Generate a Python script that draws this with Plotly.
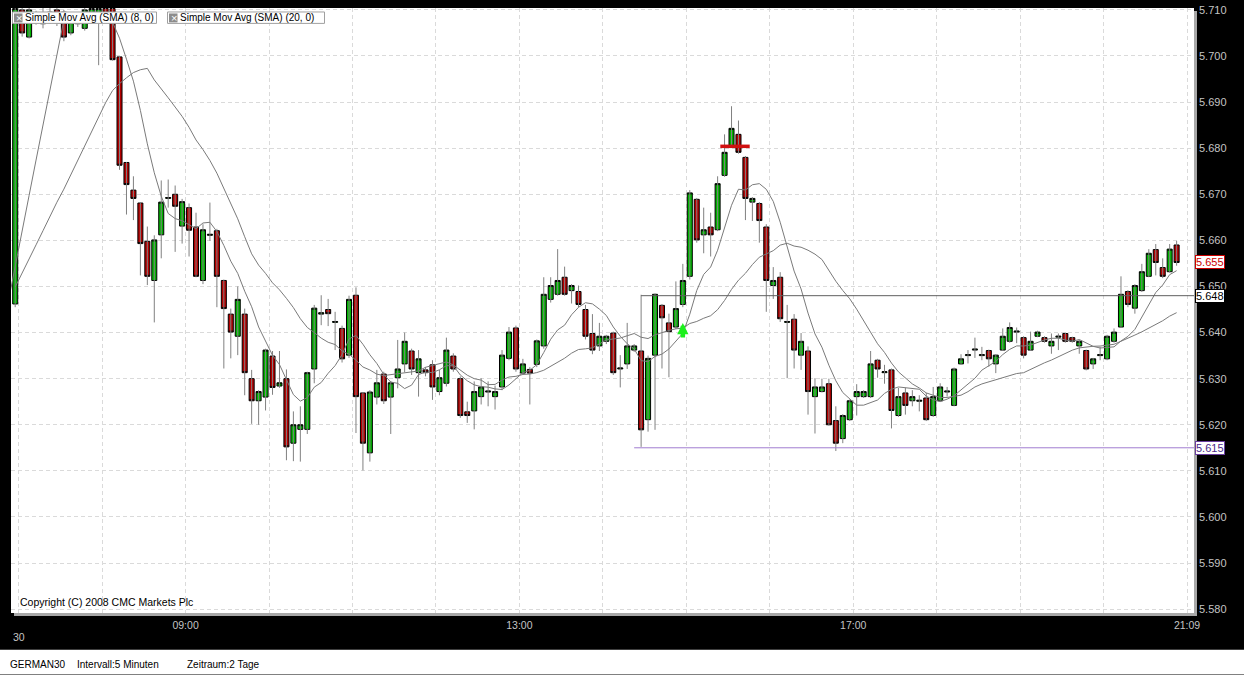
import pandas as pd
import plotly.graph_objects as go

# ---------------- data (GERMAN30, 5-minute bars) ----------------
first_bar_start = "2008-09-30 06:55"
bar_minutes = 5

opens = [5.6462, 5.7100, 5.7041, 5.7090, 5.7070, 5.7080, 5.7100, 5.7095, 5.7050, 5.7070,
         5.7060, 5.7085, 5.7085, 5.7103, 5.7103, 5.6998, 5.6769, 5.6709, 5.6681, 5.6598,
         5.6513, 5.6612, 5.6691, 5.6700, 5.6631, 5.6671, 5.6629, 5.6513, 5.6611, 5.6621,
         5.6513, 5.6440, 5.6392, 5.6440, 5.6300, 5.6252, 5.6260, 5.6349, 5.6284, 5.6300,
         5.6160, 5.6190, 5.6190, 5.6321, 5.6440, 5.6450, 5.6422, 5.6409, 5.6351, 5.6481,
         5.6269, 5.6139, 5.6260, 5.6310, 5.6260, 5.6302, 5.6332, 5.6360, 5.6313, 5.6319,
         5.6330, 5.6272, 5.6290, 5.6349, 5.6300, 5.6228, 5.6230, 5.6261, 5.6271, 5.6261,
         5.6282, 5.6344, 5.6410, 5.6312, 5.6320, 5.6331, 5.6371, 5.6472, 5.6483, 5.6520,
         5.6491, 5.6489, 5.6450, 5.6398, 5.6371, 5.6381, 5.6399, 5.6321, 5.6332, 5.6362,
         5.6360, 5.6211, 5.6351, 5.6459, 5.6421, 5.6412, 5.6461, 5.6522, 5.6689, 5.6612,
         5.6629, 5.6623, 5.6741, 5.6806, 5.6830, 5.6780, 5.6683, 5.6680, 5.6629, 5.6502,
         5.6520, 5.6422, 5.6429, 5.6351, 5.6360, 5.6261, 5.6272, 5.6289, 5.6209, 5.6170,
         5.6211, 5.6261, 5.6261, 5.6261, 5.6340, 5.6313, 5.6319, 5.6220, 5.6269, 5.6252,
         5.6251, 5.6258, 5.6220, 5.6252, 5.6271, 5.6242, 5.6332, 5.6350, 5.6362, 5.6350,
         5.6361, 5.6332, 5.6362, 5.6381, 5.6401, 5.6389, 5.6362, 5.6392, 5.6389, 5.6371,
         5.6390, 5.6398, 5.6389, 5.6371, 5.6361, 5.6332, 5.6350, 5.6343, 5.6381, 5.6412,
         5.6489, 5.6453, 5.6491, 5.6522, 5.6580, 5.6541, 5.6532, 5.6590]

highs = [5.7115, 5.7110, 5.7112, 5.7098, 5.7110, 5.7105, 5.7110, 5.7100, 5.7090, 5.7080,
         5.7105, 5.7110, 5.7110, 5.7110, 5.7110, 5.7000, 5.6770, 5.6739, 5.6683, 5.6630,
         5.6611, 5.6730, 5.6732, 5.6719, 5.6690, 5.6680, 5.6660, 5.6635, 5.6682, 5.6625,
         5.6515, 5.6452, 5.6500, 5.6452, 5.6319, 5.6275, 5.6365, 5.6360, 5.6360, 5.6320,
         5.6229, 5.6240, 5.6315, 5.6460, 5.6481, 5.6473, 5.6445, 5.6415, 5.6480, 5.6498,
         5.6270, 5.6275, 5.6319, 5.6315, 5.6295, 5.6384, 5.6400, 5.6365, 5.6362, 5.6325,
         5.6340, 5.6319, 5.6389, 5.6355, 5.6305, 5.6250, 5.6294, 5.6301, 5.6294, 5.6285,
         5.6362, 5.6412, 5.6415, 5.6343, 5.6325, 5.6385, 5.6520, 5.6520, 5.6581, 5.6543,
         5.6505, 5.6502, 5.6460, 5.6440, 5.6421, 5.6395, 5.6402, 5.6351, 5.6421, 5.6375,
         5.6482, 5.6350, 5.6485, 5.6462, 5.6441, 5.6511, 5.6549, 5.6709, 5.6692, 5.6671,
         5.6660, 5.6739, 5.6830, 5.6891, 5.6860, 5.6783, 5.6694, 5.6683, 5.6635, 5.6542,
         5.6531, 5.6460, 5.6440, 5.6399, 5.6370, 5.6301, 5.6300, 5.6300, 5.6240, 5.6223,
         5.6255, 5.6288, 5.6275, 5.6360, 5.6343, 5.6330, 5.6322, 5.6280, 5.6280, 5.6275,
         5.6264, 5.6269, 5.6282, 5.6290, 5.6282, 5.6324, 5.6353, 5.6362, 5.6389, 5.6369,
         5.6363, 5.6353, 5.6409, 5.6422, 5.6411, 5.6392, 5.6402, 5.6404, 5.6392, 5.6398,
         5.6398, 5.6400, 5.6391, 5.6384, 5.6363, 5.6345, 5.6369, 5.6395, 5.6409, 5.6522,
         5.6492, 5.6505, 5.6549, 5.6581, 5.6592, 5.6561, 5.6592, 5.6599]

lows = [5.6455, 5.7042, 5.7038, 5.7068, 5.7060, 5.7070, 5.7065, 5.7032, 5.7045, 5.7063,
        5.7055, 5.7080, 5.6980, 5.7080, 5.6990, 5.6753, 5.6656, 5.6644, 5.6524, 5.6503,
        5.6422, 5.6561, 5.6671, 5.6575, 5.6593, 5.6565, 5.6520, 5.6505, 5.6599, 5.6455,
        5.6322, 5.6344, 5.6351, 5.6264, 5.6202, 5.6200, 5.6231, 5.6265, 5.6280, 5.6123,
        5.6121, 5.6120, 5.6180, 5.6290, 5.6416, 5.6414, 5.6362, 5.6335, 5.6345, 5.6182,
        5.6101, 5.6120, 5.6244, 5.6245, 5.6180, 5.6279, 5.6314, 5.6308, 5.6261, 5.6305,
        5.6254, 5.6264, 5.6283, 5.6315, 5.6215, 5.6204, 5.6190, 5.6244, 5.6240, 5.6233,
        5.6275, 5.6340, 5.6315, 5.6308, 5.6244, 5.6325, 5.6365, 5.6465, 5.6480, 5.6480,
        5.6463, 5.6455, 5.6385, 5.6353, 5.6360, 5.6375, 5.6308, 5.6281, 5.6321, 5.6358,
        5.6152, 5.6185, 5.6189, 5.6322, 5.6303, 5.6408, 5.6455, 5.6515, 5.6595, 5.6572,
        5.6565, 5.6620, 5.6738, 5.6803, 5.6788, 5.6644, 5.6642, 5.6595, 5.6445, 5.6473,
        5.6423, 5.6301, 5.6322, 5.6319, 5.6222, 5.6181, 5.6270, 5.6198, 5.6143, 5.6160,
        5.6208, 5.6220, 5.6258, 5.6258, 5.6302, 5.6289, 5.6192, 5.6217, 5.6222, 5.6240,
        5.6229, 5.6208, 5.6217, 5.6250, 5.6261, 5.6240, 5.6330, 5.6333, 5.6345, 5.6340,
        5.6326, 5.6312, 5.6360, 5.6378, 5.6377, 5.6344, 5.6360, 5.6390, 5.6378, 5.6354,
        5.6362, 5.6378, 5.6378, 5.6354, 5.6318, 5.6321, 5.6340, 5.6340, 5.6378, 5.6410,
        5.6455, 5.6441, 5.6488, 5.6520, 5.6524, 5.6518, 5.6530, 5.6545]

closes = [5.7103, 5.7050, 5.7100, 5.7075, 5.7090, 5.7095, 5.7072, 5.7041, 5.7085, 5.7073,
          5.7100, 5.7103, 5.7103, 5.7090, 5.6992, 5.6763, 5.6721, 5.6691, 5.6593, 5.6522,
          5.6601, 5.6683, 5.6693, 5.6674, 5.6684, 5.6622, 5.6522, 5.6623, 5.6613, 5.6522,
          5.6452, 5.6401, 5.6472, 5.6313, 5.6252, 5.6272, 5.6362, 5.6281, 5.6291, 5.6152,
          5.6200, 5.6200, 5.6313, 5.6453, 5.6443, 5.6441, 5.6424, 5.6343, 5.6472, 5.6261,
          5.6160, 5.6271, 5.6291, 5.6252, 5.6291, 5.6321, 5.6381, 5.6321, 5.6343, 5.6313,
          5.6282, 5.6302, 5.6362, 5.6321, 5.6220, 5.6220, 5.6272, 5.6282, 5.6273, 5.6272,
          5.6351, 5.6401, 5.6321, 5.6332, 5.6312, 5.6382, 5.6483, 5.6502, 5.6513, 5.6483,
          5.6502, 5.6461, 5.6392, 5.6362, 5.6392, 5.6392, 5.6313, 5.6323, 5.6371, 5.6371,
          5.6189, 5.6344, 5.6483, 5.6432, 5.6402, 5.6452, 5.6513, 5.6703, 5.6601, 5.6623,
          5.6612, 5.6723, 5.6791, 5.6843, 5.6791, 5.6691, 5.6691, 5.6643, 5.6513, 5.6513,
          5.6430, 5.6424, 5.6362, 5.6381, 5.6272, 5.6282, 5.6282, 5.6200, 5.6160, 5.6220,
          5.6252, 5.6272, 5.6272, 5.6332, 5.6321, 5.6315, 5.6231, 5.6261, 5.6242, 5.6261,
          5.6253, 5.6211, 5.6261, 5.6282, 5.6273, 5.6321, 5.6343, 5.6352, 5.6364, 5.6352,
          5.6343, 5.6351, 5.6392, 5.6411, 5.6403, 5.6351, 5.6381, 5.6401, 5.6381, 5.6381,
          5.6392, 5.6381, 5.6381, 5.6381, 5.6321, 5.6343, 5.6352, 5.6392, 5.6401, 5.6483,
          5.6461, 5.6502, 5.6532, 5.6572, 5.6552, 5.6522, 5.6581, 5.6552]

# closes of the previous session (off-screen, only feed the moving averages)
prev_closes = [5.6458, 5.6466, 5.6471, 5.6476, 5.6468, 5.6463, 5.6472, 5.6469, 5.6461, 5.6466,
               5.6470, 5.6464, 5.6473, 5.6467, 5.6462, 5.6468, 5.6465, 5.6470, 5.6463]

sma_periods = [8, 20]
resistance_level = 5.648   # drawn from bar 90
support_level = 5.615      # drawn from bar 89
resistance_bar = 90
support_bar = 89
buy_signal_bar = 96
buy_signal_price = 5.6421
sell_signal_bar = 104
sell_signal_price = 5.6804

y_ticks = [5.58, 5.59, 5.60, 5.61, 5.62, 5.63, 5.64, 5.65, 5.66, 5.67, 5.68, 5.69, 5.70, 5.71]
hour_ticks = ["07:00", "08:00", "09:00", "10:00", "11:00", "12:00", "13:00", "14:00",
              "15:00", "16:00", "17:00", "18:00", "19:00", "20:00", "21:00"]
hour_labels = ["", "", "09:00", "", "", "", "13:00", "", "", "", "17:00", "", "", "", "21:09"]

# ---------------- derived series ----------------
step = pd.Timedelta(minutes=bar_minutes)
# candles are drawn at the middle of their 5-minute interval
times = pd.date_range(first_bar_start, periods=len(opens), freq=f"{bar_minutes}min") + step / 2
prev_times = pd.date_range(end=times[0] - step, periods=len(prev_closes), freq=f"{bar_minutes}min")
all_times = list(prev_times) + list(times)
all_closes = pd.Series(prev_closes + closes)
day = first_bar_start[:10]

x_range = [pd.Timestamp(day + " 06:54:29"), pd.Timestamp(day + " 21:05:00")]
y_range = [5.57916, 5.71041]

W, H = 1244, 675
ML, MR, MT, MB = 11, 50, 4, 62
PW, PH = W - ML - MR, H - MT - MB


def px_x(px):
    return (px - ML) / PW


def px_y(py):
    return (H - MB - py) / PH


FONT = "Liberation Sans, Arial, sans-serif"
fig = go.Figure()

# wicks (grey)
wx, wy = [], []
for t, h, l in zip(times, highs, lows):
    wx += [t, t, None]
    wy += [l, h, None]
fig.add_trace(go.Scatter(x=wx, y=wy, mode="lines", line=dict(color="#808080", width=1),
                         hoverinfo="skip", showlegend=False))

# bodies (black outline)
body_hi = [max(o, c) for o, c in zip(opens, closes)]
body_lo = [min(o, c) for o, c in zip(opens, closes)]
fig.add_trace(go.Candlestick(
    x=times, open=opens, high=body_hi, low=body_lo, close=closes,
    increasing=dict(fillcolor="#00b400", line=dict(color="#000000", width=1)),
    decreasing=dict(fillcolor="#b40000", line=dict(color="#000000", width=1)),
    whiskerwidth=0, showlegend=False, hoverinfo="skip"))

# moving averages
n_prev = len(prev_closes)
for p in sma_periods:
    sma = all_closes.rolling(p).mean()
    fig.add_trace(go.Scatter(x=all_times[n_prev - 1:], y=list(sma[n_prev - 1:]), mode="lines",
                             line=dict(color="#7a7a7a", width=1), hoverinfo="skip",
                             showlegend=False))

# sell signal marker
fig.add_trace(go.Scatter(x=[times[sell_signal_bar] - step / 2], y=[sell_signal_price],
                         mode="markers",
                         marker=dict(symbol="line-ew", size=21,
                                     line=dict(color="#d01010", width=3.5)),
                         hoverinfo="skip", showlegend=False))

shapes = []
# level lines
shapes.append(dict(type="line", xref="x", yref="y", x0=times[resistance_bar], x1=x_range[1],
                   y0=resistance_level, y1=resistance_level,
                   line=dict(color="#606060", width=1)))
shapes.append(dict(type="line", xref="x", yref="y", x0=times[support_bar], x1=x_range[1],
                   y0=support_level, y1=support_level,
                   line=dict(color="#a07cd0", width=1)))
# plot frame shadow
shapes.append(dict(type="rect", xref="paper", yref="paper", x0=px_x(1194), x1=px_x(1197),
                   y0=px_y(616), y1=px_y(7), fillcolor="#a8a8a8", line=dict(width=0)))
shapes.append(dict(type="rect", xref="paper", yref="paper", x0=px_x(14), x1=px_x(1197),
                   y0=px_y(616), y1=px_y(613), fillcolor="#a8a8a8", line=dict(width=0)))
# bottom white status strip
shapes.append(dict(type="rect", xref="paper", yref="paper", x0=px_x(0), x1=px_x(W),
                   y0=px_y(H), y1=px_y(650), fillcolor="#ffffff", line=dict(width=0)))
# legend boxes and icons
for (bx0, bx1) in [(12.5, 156.5), (167.5, 324.5)]:
    shapes.append(dict(type="rect", xref="paper", yref="paper", x0=px_x(bx0), x1=px_x(bx1),
                       y0=px_y(19.5), y1=px_y(8), fillcolor="#ffffff",
                       line=dict(color="#a0a0a0", width=1)))
    shapes.append(dict(type="rect", xref="paper", yref="paper", x0=px_x(bx0 + 1.5),
                       x1=px_x(bx0 + 10), y0=px_y(18.5), y1=px_y(9.5),
                       fillcolor="#8c8c8c", line=dict(width=0)))

annotations = []
for (ix, tx, label) in [(18.5, 23, "Simple Mov Avg (SMA) (8, 0)"),
                        (173.5, 178, "Simple Mov Avg (SMA) (20, 0)")]:
    annotations.append(dict(xref="paper", yref="paper", x=px_x(ix), y=px_y(14), text="×",
                            showarrow=False, font=dict(family=FONT, size=11, color="#ffffff"),
                            xanchor="center", yanchor="middle"))
    annotations.append(dict(xref="paper", yref="paper", x=px_x(tx), y=px_y(14), text=label,
                            showarrow=False, font=dict(family=FONT, size=10, color="#000000"),
                            xanchor="left", yanchor="middle"))

annotations.append(dict(xref="paper", yref="paper", x=px_x(18), y=px_y(602),
                        text="Copyright (C) 2008 CMC Markets Plc", showarrow=False,
                        font=dict(family=FONT, size=10.5, color="#000000"),
                        xanchor="left", yanchor="middle"))
annotations.append(dict(xref="paper", yref="paper", x=px_x(19), y=px_y(637), text=day[8:10],
                        showarrow=False, font=dict(family=FONT, size=10.5, color="#c4c4c4"),
                        xanchor="center", yanchor="middle"))
for (bx, txt) in [(8, "GERMAN30"), (75, "Intervall:5 Minuten"), (185, "Zeitraum:2 Tage")]:
    annotations.append(dict(xref="paper", yref="paper", x=px_x(bx), y=px_y(665), text=txt,
                            showarrow=False, font=dict(family=FONT, size=10, color="#000000"),
                            xanchor="left", yanchor="middle"))

# price badges on the right axis
for (val, col, txtcol) in [(closes[-1], "#cc0000", "#cc0000"),
                           (resistance_level, "#000000", "#000000"),
                           (support_level, "#6a3fa0", "#4b2a8a")]:
    annotations.append(dict(xref="paper", yref="y", x=1, y=val, xanchor="left",
                            yanchor="middle", xshift=1, text=f"{val:.3f}", showarrow=False,
                            bgcolor="#ffffff", bordercolor=col, borderwidth=1, borderpad=0,
                            font=dict(family=FONT, size=11, color=txtcol)))

# buy signal arrow
annotations.append(dict(x=times[buy_signal_bar], y=buy_signal_price, xref="x", yref="y",
                        text="", font=dict(size=1), borderpad=0, showarrow=True,
                        ax=0, ay=15, arrowhead=2, arrowsize=0.5,
                        arrowwidth=4.5, arrowcolor="#1cf01c", standoff=0))

fig.update_layout(
    width=W, height=H,
    margin=dict(l=ML, r=MR, t=MT, b=MB, pad=0),
    paper_bgcolor="#000000", plot_bgcolor="#ffffff",
    showlegend=False, hovermode=False,
    boxgap=0.15, boxgroupgap=0.15,
    shapes=shapes, annotations=annotations,
    xaxis=dict(type="date", range=x_range, rangeslider=dict(visible=False),
               tickvals=[pd.Timestamp(day + " " + h) for h in hour_ticks], ticktext=hour_labels,
               showgrid=True, gridcolor="#dadada", griddash="4px,3px", gridwidth=1,
               zeroline=False, showline=False, ticks="", ticklabelstandoff=4,
               tickfont=dict(family=FONT, size=10.5, color="#c4c4c4")),
    yaxis=dict(side="right", range=y_range, tickvals=y_ticks,
               ticktext=[f"{v:.3f}" for v in y_ticks], ticklabeloverflow="allow",
               ticklabelstandoff=4,
               showgrid=True, gridcolor="#dadada", griddash="4px,3px", gridwidth=1,
               zeroline=False, showline=False, ticks="",
               tickfont=dict(family=FONT, size=11, color="#c4c4c4")),
)

fig.write_html("out.html", config={"displayModeBar": False},
               post_script="document.body.style.margin='0';document.body.style.padding='0';"
                           "document.body.style.overflow='hidden';")
